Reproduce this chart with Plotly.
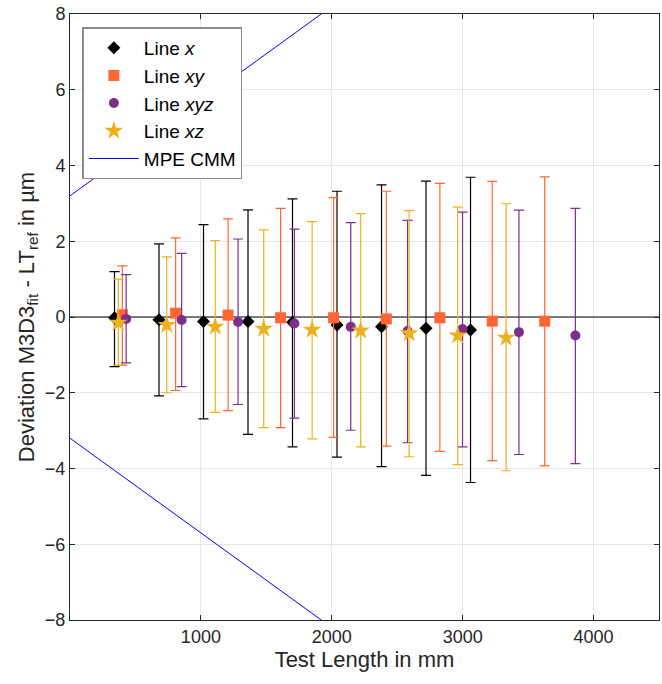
import plotly.graph_objects as go

# ---- data ----
x_line_x = [340, 680, 1020, 1360, 1700, 2040, 2380, 2720, 3060]
y_line_x = [-0.02, -0.07, -0.12, -0.12, -0.14, -0.21, -0.26, -0.30, -0.34]
up_line_x = [1.20, 1.93, 2.44, 2.83, 3.12, 3.32, 3.49, 3.59, 3.69]
lo_line_x = [-1.31, -2.08, -2.69, -3.10, -3.43, -3.70, -3.95, -4.18, -4.37]

x_line_xy = [400, 807, 1208, 1609, 2014, 2417, 2826, 3226, 3627]
y_line_xy = [0.06, 0.10, 0.05, -0.02, -0.02, -0.05, -0.02, -0.11, -0.11]
up_line_xy = [1.35, 2.09, 2.59, 2.87, 3.15, 3.32, 3.53, 3.58, 3.70]
lo_line_xy = [-1.27, -1.94, -2.47, -2.92, -3.18, -3.41, -3.55, -3.79, -3.93]

x_line_xyz = [429, 853, 1284, 1715, 2145, 2579, 2999, 3430, 3861]
y_line_xyz = [-0.05, -0.08, -0.13, -0.17, -0.26, -0.37, -0.32, -0.40, -0.49]
up_line_xyz = [1.12, 1.68, 2.06, 2.32, 2.49, 2.55, 2.77, 2.82, 2.87]
lo_line_xyz = [-1.21, -1.84, -2.31, -2.67, -2.99, -3.32, -3.43, -3.63, -3.87]

x_line_xz = [369, 739, 1110, 1480, 1850, 2221, 2591, 2962, 3332]
y_line_xz = [-0.15, -0.21, -0.26, -0.31, -0.34, -0.36, -0.43, -0.49, -0.55]
up_line_xz = [1.00, 1.59, 2.02, 2.30, 2.52, 2.73, 2.81, 2.90, 2.99]
lo_line_xz = [-1.27, -2.00, -2.52, -2.92, -3.22, -3.43, -3.69, -3.90, -4.06]

mpe_x = [0, 1920]
mpe_upper = [3.2, 8.0]
mpe_lower = [-3.2, -8.0]

zero_x = [0, 4500]
zero_y = [0, 0]

x_ticks = [1000, 2000, 3000, 4000]
y_ticks = [-8, -6, -4, -2, 0, 2, 4, 6, 8]

FONT = "Liberation Sans, Arial, sans-serif"
AX = "#262626"

fig = go.Figure()

fig.add_trace(go.Scatter(x=zero_x, y=zero_y, mode="lines",
                         line=dict(color="black", width=1.2),
                         showlegend=False, hoverinfo="skip"))


def series(name, xs, ys, ups, los, color, symbol, size):
    plus = [u - y for u, y in zip(ups, ys)]
    minus = [y - l for l, y in zip(los, ys)]
    fig.add_trace(go.Scatter(
        x=xs, y=ys, mode="markers", name=name,
        marker=dict(color=color, symbol=symbol, size=size, line=dict(width=0)),
        error_y=dict(type="data", symmetric=False, array=plus, arrayminus=minus,
                     color=color, thickness=1.2, width=5),
    ))


series("Line <i>x</i>", x_line_x, y_line_x, up_line_x, lo_line_x, "black", "diamond", 10)
series("Line <i>xy</i>", x_line_xy, y_line_xy, up_line_xy, lo_line_xy, "#FF6633", "square", 11)
series("Line <i>xyz</i>", x_line_xyz, y_line_xyz, up_line_xyz, lo_line_xyz, "#7E2F8E", "circle", 10)
series("Line <i>xz</i>", x_line_xz, y_line_xz, up_line_xz, lo_line_xz, "#EDB120", "star", 14)

fig.add_trace(go.Scatter(x=mpe_x, y=mpe_upper, mode="lines", name="MPE CMM",
                         line=dict(color="#0000FF", width=1), legendgroup="mpe"))
fig.add_trace(go.Scatter(x=mpe_x, y=mpe_lower, mode="lines", name="MPE CMM",
                         line=dict(color="#0000FF", width=1), legendgroup="mpe",
                         showlegend=False))

fig.update_layout(
    width=662, height=684,
    margin=dict(l=70, r=3, t=14, b=64),
    paper_bgcolor="white", plot_bgcolor="white",
    font=dict(family=FONT, size=18, color=AX),
    legend=dict(x=0.021, y=0.978, xanchor="left", yanchor="top",
                bgcolor="white", bordercolor="#8c8c8c", borderwidth=1.5,
                font=dict(size=19, color="black"), tracegroupgap=0,
                itemwidth=50),
    xaxis=dict(range=[0, 4500], tickvals=x_ticks, showgrid=True,
               gridcolor="#e6e6e6", gridwidth=1, zeroline=False,
               showline=True, linecolor=AX, linewidth=1, mirror="ticks",
               ticks="inside", ticklen=5, tickcolor=AX,
               title=dict(text="Test Length in mm", font=dict(size=22, color=AX), standoff=6)),
    yaxis=dict(range=[-8, 8], tickvals=y_ticks, showgrid=True,
               gridcolor="#e6e6e6", gridwidth=1, zeroline=False,
               showline=True, linecolor=AX, linewidth=1, mirror="ticks",
               ticks="inside", ticklen=5, tickcolor=AX,
               title=dict(text="Deviation M3D3<sub>fit</sub> - LT<sub>ref</sub> in µm",
                          font=dict(size=22, color=AX), standoff=4)),
)

fig.write_html("out.html")
